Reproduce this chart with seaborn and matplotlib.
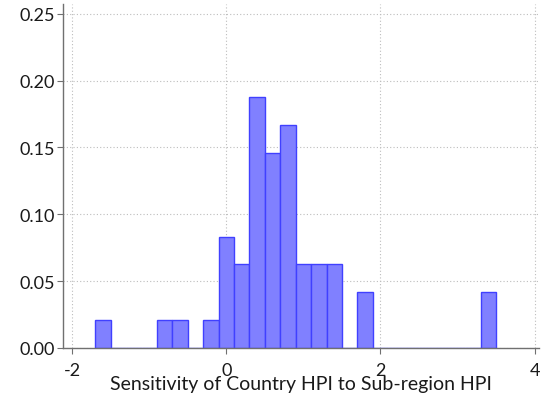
import numpy as np
import pandas as pd
import matplotlib
matplotlib.use('Agg')
import matplotlib.pyplot as plt
import seaborn as sns

# bin centres (width 0.2) and fraction of countries in each bin
bin_centres = [-1.6, -0.8, -0.6, -0.2, 0.0, 0.2, 0.4, 0.6, 0.8, 1.0, 1.2, 1.4, 1.8, 3.4]
fractions = [1/48, 1/48, 1/48, 1/48, 4/48, 3/48, 9/48, 7/48, 8/48, 3/48, 3/48, 3/48, 2/48, 2/48]
x_ticks = [-2, 0, 2, 4]
y_ticks = [0.00, 0.05, 0.10, 0.15, 0.20, 0.25]

df = pd.DataFrame({'sens': bin_centres, 'frac': fractions})

sns.set_style('white')
plt.rcParams['font.family'] = ['Lato', 'DejaVu Sans']

fig = plt.figure(figsize=(5.42, 4.02), dpi=100)
ax = fig.add_axes([0.116, 0.132, 0.879, 0.856])

sns.histplot(data=df, x='sens', weights='frac', binwidth=0.2, binrange=(-1.7, 3.5),
             color='#8080ff', edgecolor='#4040ff', linewidth=1.0, alpha=1.0, ax=ax)

ax.set_xlim(-2.12, 4.06)
ax.set_ylim(0, 0.2575)
ax.set_xticks(x_ticks)
ax.set_xticklabels([str(t) for t in x_ticks])
ax.set_yticks(y_ticks)
ax.set_yticklabels([f'{t:.2f}' for t in y_ticks])
ax.grid(True, linestyle=(0, (1, 2)), color='#bdbdbd', linewidth=0.8)
ax.set_axisbelow(True)

for s in ['top', 'right']:
    ax.spines[s].set_visible(False)
for s in ['left', 'bottom']:
    ax.spines[s].set_color('#707070')
    ax.spines[s].set_linewidth(1.0)

ax.tick_params(axis='y', direction='out', length=4, width=0.8, color='#707070',
               labelsize=13, labelcolor='#1a1a1a', left=True, pad=2)
ax.tick_params(axis='x', direction='out', length=4, width=0.8, color='#707070',
               labelsize=13, labelcolor='#1a1a1a', bottom=True, pad=6)
ax.set_ylabel('')
ax.set_xlabel('Sensitivity of Country HPI to Sub-region HPI', fontsize=14,
              color='#1a1a1a', labelpad=-2)

fig.savefig('out.png', dpi=100, facecolor='white')
